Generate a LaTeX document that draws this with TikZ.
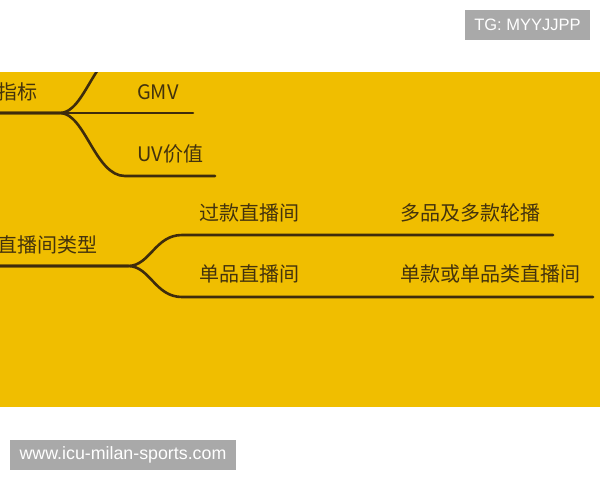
\documentclass[tikz,border=0pt]{standalone}
\usepackage{fontspec}
\setmainfont{Noto Sans CJK SC}
\newfontfamily\tagfont{Liberation Sans}
\usetikzlibrary{positioning}
\definecolor{mapyellow}{HTML}{F0BE00}
\definecolor{mapbrown}{HTML}{3E2C0C}
\definecolor{maptext}{HTML}{44330D}
\definecolor{taggray}{HTML}{A9A9A9}

\begin{document}
\begin{tikzpicture}[x=1pt, y=-1pt,
  every node/.style={font=\fontsize{20}{24}\selectfont, text=maptext, inner sep=0pt},
  branch/.style={line width=2.6pt, mapbrown, line cap=round},
  tagbox/.style={fill=taggray, text=white, minimum height=30pt}]
  \useasboundingbox (0,0) rectangle (600,480);
  \fill[mapyellow] (0,72) rectangle (600,407);

  % watermark tags
  \node[tagbox, minimum width=125pt, font=\tagfont\fontsize{16.5}{18}\selectfont] (tg) at (527.5,25) {TG: MYYJJPP};
  \node[tagbox, minimum width=226pt, font=\tagfont\fontsize{17.8}{18}\selectfont] (site) at (123,455) {www.icu-milan-sports.com};

  % first group (clipped to the yellow band)
  \node[anchor=base east] (kpi) at (38,99.5) {指标};
  \node[anchor=base west] (gmv) at (137,99.5) {GMV};
  \node[anchor=base west] (uv) at (137,161) {UV价值};
  \coordinate (kpiroot) at (-5,113);
  \coordinate (kpijoin) at (60,113);
  \coordinate (kpiup) at (125,50);
  \coordinate (gmvend) at (193,113);
  \coordinate (uvend) at (215,176);
  \begin{scope}
    \clip (-10,72) rectangle (600,407);
    \draw[branch] (kpiroot) -- (kpijoin) .. controls (85,113) and (95,50) .. (kpiup);
    \draw[branch] (kpiroot) -- (kpijoin) -- (gmvend);
    \draw[branch] (kpiroot) -- (kpijoin) .. controls (85,113) and (95,176) .. (125,176) -- (uvend);
  \end{scope}

  % second group
  \node[anchor=base east] (type) at (98,252) {直播间类型};
  \node[anchor=base west] (multi) at (199,220) {过款直播间};
  \node[anchor=base west] (single) at (199,281.5) {单品直播间};
  \node[anchor=base west] (multidesc) at (400,220) {多品及多款轮播};
  \node[anchor=base west] (singledesc) at (400,281.5) {单款或单品类直播间};
  \coordinate (typeroot) at (-5,266);
  \coordinate (typejoin) at (128,266);
  \coordinate (multiend) at (553,235);
  \coordinate (singleend) at (593,297);
  \draw[branch] (typeroot) -- (typejoin) .. controls (150,266) and (155,235) .. (182,235) -- (multiend);
  \draw[branch] (typeroot) -- (typejoin) .. controls (150,266) and (155,297) .. (182,297) -- (singleend);
\end{tikzpicture}
\end{document}
